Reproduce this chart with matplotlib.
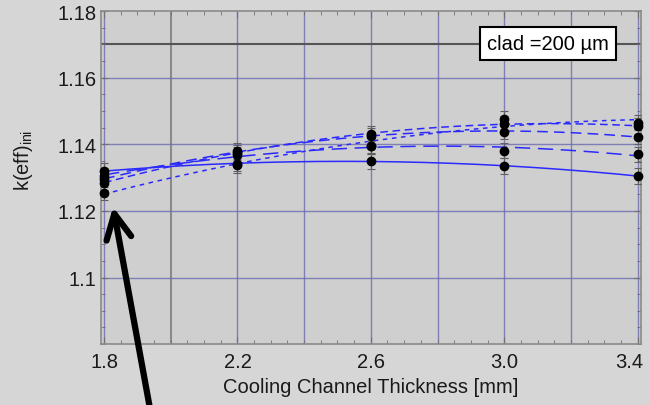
import matplotlib
matplotlib.use("Agg")
import matplotlib.pyplot as plt
import matplotlib.transforms as mtransforms
import numpy as np
from matplotlib.ticker import MultipleLocator, FixedLocator, FixedFormatter

plt.rcParams['font.family'] = ['Liberation Sans', 'DejaVu Sans']

# ===== Data: k(eff) at each cooling channel thickness =====
thickness = [1.8, 2.2, 2.6, 3.0, 3.4]
k_solid = [1.1320, 1.1342, 1.1350, 1.1335, 1.1305]
k_long = [1.1305, 1.1368, 1.1395, 1.1381, 1.1370]
k_dash = [1.1295, 1.1380, 1.1425, 1.1438, 1.1423]
k_short = [1.1285, 1.1375, 1.1432, 1.1462, 1.1455]
k_fine = [1.1255, 1.1338, 1.1395, 1.1477, 1.1465]
k_err = 0.0023

xticks = [1.8, 2.2, 2.6, 3.0, 3.4]
xtick_labels = ['1.8', '2.2', '2.6', '3.0', '3.4']
yticks = [1.10, 1.12, 1.14, 1.16, 1.18]
ytick_labels = ['1.1', '1.12', '1.14', '1.16', '1.18']
box_text = 'clad =200 µm'

series = [k_solid, k_long, k_dash, k_short, k_fine]
styles = ['-', (0, (10, 5)), (0, (7, 4)), (0, (5, 3)), (0, (3, 3))]

fig = plt.figure(figsize=(6.5, 4.06), dpi=100)
fig.patch.set_facecolor('#d6d6d6')
ax = fig.add_axes([0.155, 0.150, 0.831, 0.820])
ax.set_facecolor('#cfcfcf')

ax.set_xlim(1.79, 3.41)
ax.set_ylim(1.08, 1.18)

# ===== Grid =====
for gx in np.arange(1.8, 3.41, 0.2):
    if abs(gx - 2.0) < 1e-6:
        ax.axvline(gx, color='#8a8a8a', lw=1.5, zorder=1)
    else:
        ax.axvline(gx, color='#6b6bb0', lw=1.0, alpha=0.8, zorder=1)
for gy in [1.10, 1.12, 1.14, 1.16]:
    ax.axhline(gy, color='#6b6bb0', lw=1.0, alpha=0.8, zorder=1)
ax.axhline(1.17, color='#555555', lw=1.5, zorder=1)

# ===== Fitted curves + points =====
xs = np.linspace(1.8, 3.4, 200)
for ys, ls in zip(series, styles):
    coef = np.polyfit(thickness, ys, 2)
    ax.plot(xs, np.polyval(coef, xs), color='#2a2aff', lw=1.1, linestyle=ls, zorder=3)
    ax.errorbar(thickness, ys, yerr=k_err, fmt='none', ecolor='#606060',
                elinewidth=0.8, capsize=3, capthick=0.8, zorder=4)
    ax.plot(thickness, ys, 'o', color='black', markersize=6, zorder=5, clip_on=False)

# ===== Axes styling =====
ax.xaxis.set_major_locator(FixedLocator(xticks))
ax.xaxis.set_major_formatter(FixedFormatter(xtick_labels))
ax.yaxis.set_major_locator(FixedLocator(yticks))
ax.yaxis.set_major_formatter(FixedFormatter(ytick_labels))
ax.xaxis.set_minor_locator(MultipleLocator(0.05))
ax.yaxis.set_minor_locator(MultipleLocator(0.005))
ax.tick_params(which='both', direction='in', top=True, right=True, color='#707070')
ax.tick_params(which='major', length=5, labelsize=14.5, labelcolor='#1a1a1a')
ax.tick_params(which='minor', length=3)
ax.tick_params(axis='x', pad=6)
ax.tick_params(axis='y', pad=3)
for sp in ax.spines.values():
    sp.set_color('#8a8a8a')
    sp.set_linewidth(1.2)

# last x label sits at the figure edge, nudge it inside
fig.canvas.draw()
last = ax.get_xticklabels()[-1]
last.set_transform(last.get_transform() +
                   mtransforms.ScaledTranslation(-6 / 72, 0, fig.dpi_scale_trans))

ax.set_xlabel('Cooling Channel Thickness [mm]', fontsize=14.5, color='#1a1a1a', labelpad=4)
ax.set_ylabel(r'k(eff)$_{\mathregular{ini}}$', fontsize=14.5, color='#1a1a1a')
ax.yaxis.set_label_coords(-0.122, 0.556)

ax.text(3.13, 1.1702, box_text, fontsize=14.5, ha='center', va='center', zorder=6,
        bbox=dict(boxstyle='square,pad=0.35', facecolor='white', edgecolor='black', lw=1.5))

# ===== Pointer arrow =====
ax.annotate('', xy=(0.174, 0.488), xycoords='figure fraction',
            xytext=(0.232, -0.02), textcoords='figure fraction',
            annotation_clip=False,
            arrowprops=dict(arrowstyle='->,head_length=0.9,head_width=0.45',
                            color='black', lw=4.5, mutation_scale=20,
                            shrinkA=0, shrinkB=0))

fig.savefig('out.png', dpi=100, facecolor=fig.get_facecolor())
